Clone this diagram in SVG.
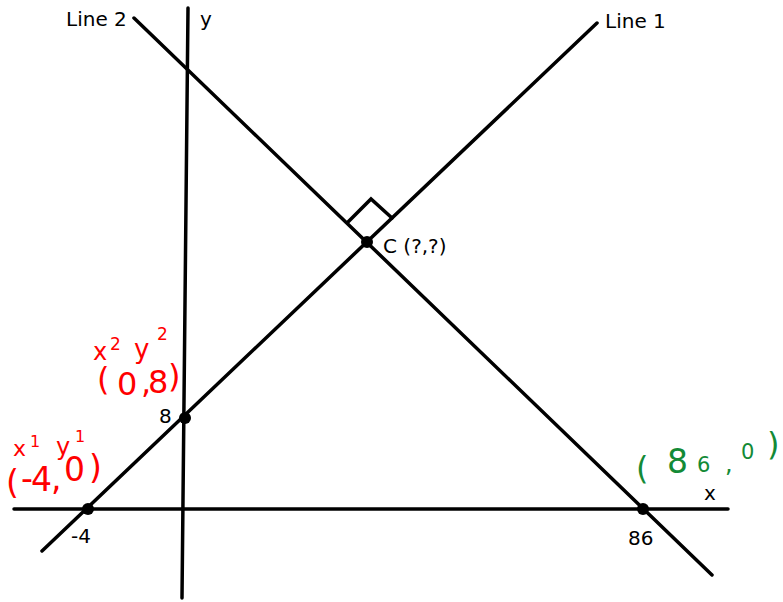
<svg xmlns="http://www.w3.org/2000/svg" width="783" height="602" viewBox="0 0 783 602">
<style>
.ax{stroke:#000;stroke-width:3.5;fill:none;stroke-linecap:round}
.lbl{font-family:"DejaVu Sans",Verdana,sans-serif;font-size:20px;fill:#000}
.red{font-family:"DejaVu Sans",sans-serif;font-weight:normal;fill:#ff0000}
.grn{font-family:"DejaVu Sans",sans-serif;font-weight:normal;fill:#138a36}
.dot{fill:#000}
</style>
<rect width="783" height="602" fill="#fff"/>
<g id="connectors">
<line class="ax" x1="14" y1="509" x2="728" y2="509"/>
<line class="ax" x1="188" y1="8" x2="182" y2="598"/>
<line class="ax" x1="42" y1="551" x2="597" y2="23"/>
<line class="ax" x1="134" y1="18" x2="712" y2="575"/>
<polyline class="ax" points="348,222 371,199 392,218"/>
</g>
<g id="line1-label"><text class="lbl" x="605" y="28">Line 1</text></g>
<g id="line2-label"><text class="lbl" x="66" y="26">Line 2</text></g>
<g id="y-label"><text class="lbl" x="200" y="26">y</text></g>
<g id="x-label"><text class="lbl" x="704" y="500">x</text></g>
<g id="pointC"><circle class="dot" cx="367" cy="242" r="6"/><text class="lbl" x="383" y="253" font-size="21">C (?,?)</text></g>
<g id="point8"><circle class="dot" cx="185" cy="418" r="6"/><text class="lbl" x="159" y="423">8</text></g>
<g id="point-4"><circle class="dot" cx="88" cy="509" r="6"/><text class="lbl" x="71" y="543">-4</text></g>
<g id="point86"><circle class="dot" cx="643" cy="509" r="6"/><text class="lbl" x="628" y="545">86</text></g>
<g id="note-x2y2">
<text class="red" font-size="24" x="93" y="360">x<tspan font-size="17" x="110" y="350">2</tspan><tspan font-size="26" x="134" y="358">y</tspan><tspan font-size="17" x="157" y="340">2</tspan></text>
<text class="red" font-size="32" x="97 117 141 148 168" y="390 395 393 393 387">(0,8)</text>
</g>
<g id="note-x1y1">
<text class="red" font-size="22" x="13" y="456">x<tspan font-size="16" x="30" y="447">1</tspan><tspan font-size="24" x="56" y="455">y</tspan><tspan font-size="16" x="75" y="442">1</tspan></text>
<text class="red" font-size="33" x="6 21 31 51 64 89" y="494 490 491 490 481 479">(-4,0)</text>
</g>
<g id="note-86">
<text class="grn" font-size="32" x="636" y="479">(<tspan font-size="33" x="667" y="473">8</tspan><tspan font-size="21" x="697" y="472">6</tspan><tspan font-size="24" x="725" y="472">,</tspan><tspan font-size="21" x="741" y="459">0</tspan><tspan font-size="32" x="767" y="455">)</tspan></text>
</g>
</svg>
